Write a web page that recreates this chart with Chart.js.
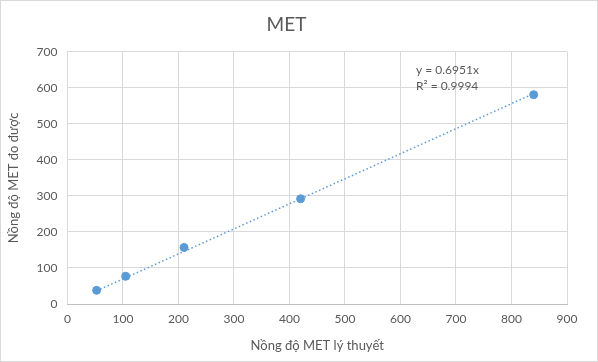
<!DOCTYPE html>
<html>
<head>
<meta charset="utf-8">
<script src="https://cdn.jsdelivr.net/npm/chart.js@4"></script>
<style>
html,body{margin:0;padding:0;background:#fff;}
#wrap{position:relative;width:596px;height:360px;border:1px solid #d9d9d9;}
</style>
</head>
<body>
<div id="wrap"><canvas id="metChart" width="596" height="360"></canvas></div>
<script>
// data
const xValues = [52.5, 105, 210, 420, 840];
const yValues = [38, 77, 157, 292, 581];
const trendSlope = 0.6951;
const trendText = ['y = 0.6951x', 'R² = 0.9994'];
const xTicks = [0, 100, 200, 300, 400, 500, 600, 700, 800, 900];
const yTicks = [0, 100, 200, 300, 400, 500, 600, 700];

const blue = '#5b9bd5';
const grey = '#595959';
const font = 'Lato, "Open Sans", sans-serif';

let points = [];
xValues.forEach((x, i) => {
points.push({x: x, y: yValues[i]});
});

const xMin = Math.min(...xValues);
const xMax = Math.max(...xValues);
const trendPoints = [
{x: xMin, y: trendSlope * xMin},
{x: xMax, y: trendSlope * xMax}
];

const trendLabel = {
id: 'trendLabel',
afterDatasetsDraw(chart){
const ctx = chart.ctx;
const xs = chart.scales.x;
const ys = chart.scales.y;
ctx.save();
ctx.fillStyle = grey;
ctx.font = '12px ' + font;
ctx.textBaseline = 'middle';
ctx.fillText(trendText[0], xs.getPixelForValue(628), ys.getPixelForValue(648));
ctx.fillText(trendText[1], xs.getPixelForValue(628), ys.getPixelForValue(606));
ctx.restore();
}
};

new Chart(
document.getElementById('metChart'),
{
type: 'scatter',
data: {
datasets: [
{
label: 'MET',
data: points,
backgroundColor: blue,
borderColor: blue,
pointRadius: 4,
pointHoverRadius: 4
},
{
type: 'line',
label: 'trend',
data: trendPoints,
borderColor: blue,
borderWidth: 1.5,
borderDash: [1.5, 2.5],
pointRadius: 0,
fill: false
}
]
},
options: {
responsive: false,
animation: false,
layout: {padding: {left: 5, right: 30, top: 4, bottom: 3}},
plugins: {
legend: {display: false},
tooltip: {enabled: false},
title: {
display: true,
text: 'MET',
color: grey,
font: {family: font, size: 19, weight: 'normal'},
padding: {top: 8, bottom: 16}
}
},
scales: {
x: {
type: 'linear',
min: 0,
max: 900,
afterBuildTicks: axis => { axis.ticks = xTicks.map(v => ({value: v})); },
grid: {color: '#d9d9d9', drawTicks: false},
border: {color: '#bfbfbf'},
ticks: {color: grey, font: {family: font, size: 12}, padding: 8},
title: {display: true, text: 'Nồng độ MET lý thuyết', color: grey, font: {family: font, size: 13}, padding: {top: 4}}
},
y: {
min: 0,
max: 700,
afterBuildTicks: axis => { axis.ticks = yTicks.map(v => ({value: v})); },
grid: {color: '#d9d9d9', drawTicks: false},
border: {display: false},
ticks: {color: grey, font: {family: font, size: 12}, padding: 10},
title: {display: true, text: 'Nồng độ MET đo được', color: grey, font: {family: font, size: 13}, padding: {top: 0, bottom: 5}}
}
}
},
plugins: [trendLabel]
}
);
</script>
</body>
</html>
